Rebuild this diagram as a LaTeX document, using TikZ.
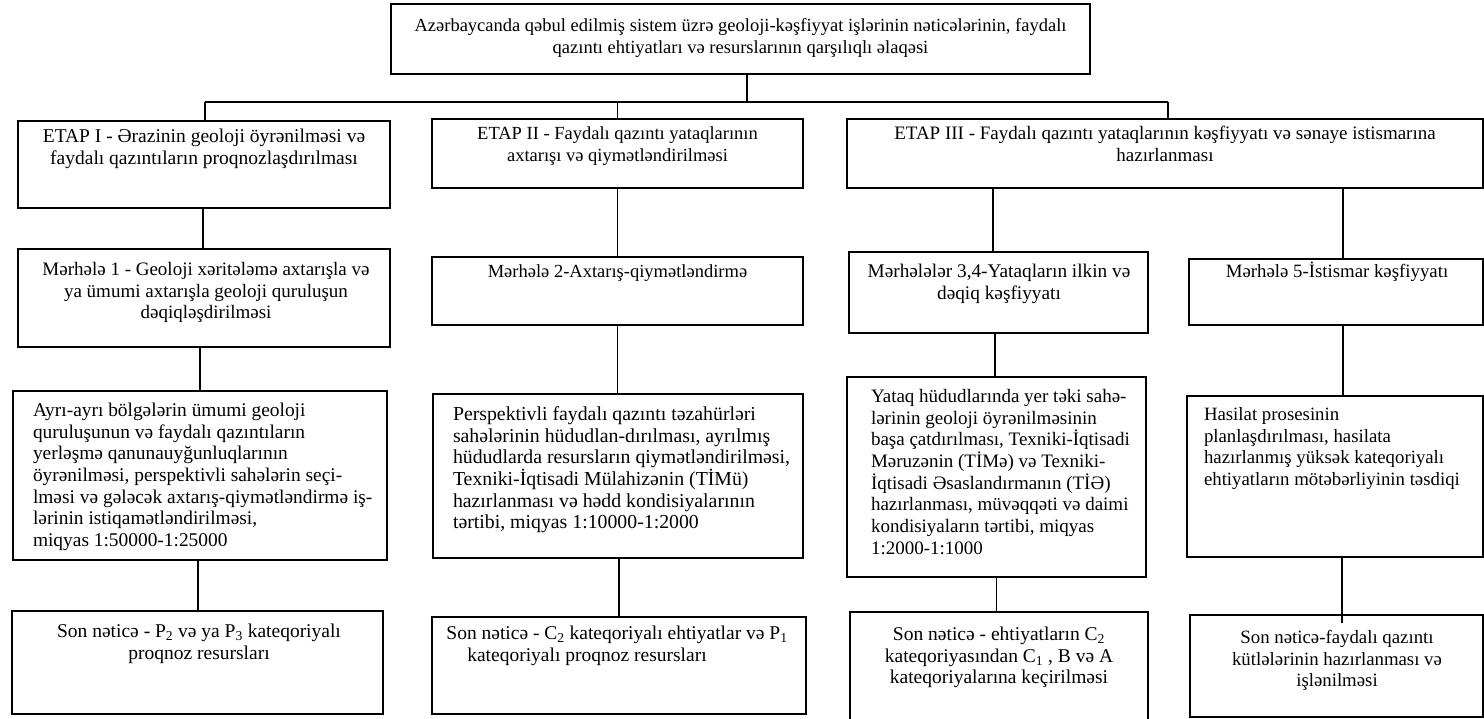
\documentclass[tikz,border=0pt]{standalone}
\usepackage{fontspec}
\setmainfont{Liberation Serif}
\tikzset{
  box/.style={draw, line width=1.5pt, inner sep=0pt, outer sep=0pt},
  txt/.style={inner sep=0pt, outer sep=0pt},
  conn/.style={line width=1.5pt},
}
\newcommand{\bx}[5]{\node[box, minimum width={(#4)-(#2)}, minimum height={(#5)-(#3)}] (#1) at ({((#2)+(#4))/2},{((#3)+(#5))/2}) {};}
\newcommand{\tc}[5][19]{\node[txt, font=\fontsize{#1}{21.7}\selectfont, align=center, anchor=north] (#2) at (#3,{(#4)-13.6}) {\rule{0pt}{18pt}#5};}
\newcommand{\tl}[5][19]{\node[txt, font=\fontsize{#1}{21.7}\selectfont, align=left, anchor=north west] (#2) at (#3,{(#4)-13.6}) {\rule{0pt}{18pt}#5};}
\newcommand{\vc}[3]{\draw[conn] ([xshift=#3pt]#1.south) -- ([xshift=#3pt]#1.south |- #2.north);}
\begin{document}
\begin{tikzpicture}[x=1pt,y=-1pt]
\useasboundingbox (0,0) rectangle (1484,719);
% boxes
\bx{top}{391}{4}{1090}{74}
\bx{e1}{18}{121}{390}{208}
\bx{e2}{432}{119}{803}{188}
\bx{e3}{847}{119}{1483}{188}
\bx{m1}{18}{249}{390}{347}
\bx{m2}{432}{257}{803}{325}
\bx{m34}{849}{252}{1148}{333}
\bx{m5}{1189}{259}{1483}{325}
\bx{a1}{13}{391}{387}{560}
\bx{a2}{433}{394}{803}{558}
\bx{a3}{847}{377}{1146}{577}
\bx{a4}{1187}{396}{1483}{557}
\bx{s1}{12}{611}{383}{714}
\bx{s2}{432}{617}{806}{714}
\bx{s3}{850}{612}{1148}{724}
\bx{s4}{1190}{615}{1483}{717}
% texts
\tc[18.5]{ttop}{740.5}{27}{Azərbaycanda qəbul edilmiş sistem üzrə geoloji-kəşfiyyat işlərinin nəticələrinin, faydalı\\qazıntı ehtiyatları və resurslarının qarşılıqlı əlaqəsi}
\tc[19.5]{te1}{204}{138}{ETAP I - Ərazinin geoloji öyrənilməsi və\\faydalı qazıntıların proqnozlaşdırılması}
\tc[18.5]{te2}{617.5}{135}{ETAP II - Faydalı qazıntı yataqlarının\\axtarışı və qiymətləndirilməsi}
\tc[19]{te3}{1165}{135}{ETAP III - Faydalı qazıntı yataqlarının kəşfiyyatı və sənaye istismarına\\hazırlanması}
\tc[19]{tm1}{206}{271}{Mərhələ 1 - Geoloji xəritələmə axtarışla və\\ya ümumi axtarışla geoloji quruluşun\\dəqiqləşdirilməsi}
\tc[18.5]{tm2}{617.5}{273}{Mərhələ 2-Axtarış-qiymətləndirmə}
\tc[19.3]{tm34}{999}{273}{Mərhələlər 3,4-Yataqların ilkin və\\dəqiq kəşfiyyatı}
\tc[18.8]{tm5}{1337}{273}{Mərhələ 5-İstismar kəşfiyyatı}
\tl[19.4]{ta1}{33}{412}{Ayrı-ayrı bölgələrin ümumi geoloji\\quruluşunun və faydalı qazıntıların\\yerləşmə qanunauyğunluqlarının\\öyrənilməsi, perspektivli sahələrin seçi-\\lməsi və gələcək axtarış-qiymətləndirmə iş-\\lərinin istiqamətləndirilməsi,\\miqyas 1:50000-1:25000}
\tl[19.8]{ta2}{453}{416}{Perspektivli faydalı qazıntı təzahürləri\\sahələrinin hüdudlan-dırılması, ayrılmış\\hüdudlarda resursların qiymətləndirilməsi,\\Texniki-İqtisadi Mülahizənin (TİMü)\\hazırlanması və hədd kondisiyalarının\\tərtibi, miqyas 1:10000-1:2000}
\tl[19]{ta3}{871}{398}{Yataq hüdudlarında yer təki sahə-\\lərinin geoloji öyrənilməsinin\\başa çatdırılması, Texniki-İqtisadi\\Məruzənin (TİMə) və Texniki-\\İqtisadi Əsaslandırmanın (TİƏ)\\hazırlanması, müvəqqəti və daimi\\kondisiyaların tərtibi, miqyas\\1:2000-1:1000}
\tl[18.8]{ta4}{1204}{416}{Hasilat prosesinin\\planlaşdırılması, hasilata\\hazırlanmış yüksək kateqoriyalı\\ehtiyatların mötəbərliyinin təsdiqi}
\tc[19.5]{ts1}{199}{633}{Son nəticə - P\textsubscript{2} və ya P\textsubscript{3} kateqoriyalı\\proqnoz resursları}
\tc[19.5]{ts2}{617}{635}{Son nəticə - C\textsubscript{2} kateqoriyalı ehtiyatlar və P\textsubscript{1}\\kateqoriyalı proqnoz resursları\hspace*{60pt}}
\tc[19.5]{ts3}{999}{636}{Son nəticə - ehtiyatların C\textsubscript{2}\\kateqoriyasından C\textsubscript{1} , B və A\\kateqoriyalarına keçirilməsi}
\tc[18.8]{ts4}{1337}{639}{Son nəticə-faydalı qazıntı\\kütlələrinin hazırlanması və\\işlənilməsi}
% bus
\coordinate (busL) at (205,102);
\coordinate (busR) at (1168,102);
\draw[conn] ([xshift=6.5pt]top.south) -- ([xshift=6.5pt]top.south |- busL);
\draw[conn] (busL) -- (busR);
\draw[conn] (busL) -- (busL |- e1.north);
\draw[conn] (e2.north) -- (e2.north |- busL);
\draw[conn] (busR) -- (busR |- e3.north);
% vertical connectors
\vc{e1}{m1}{-1}
\vc{e2}{m2}{0}
\vc{e3}{m34}{-172}
\vc{e3}{m5}{178}
\vc{m1}{a1}{-4}
\vc{m2}{a2}{0}
\vc{m34}{a3}{-3.5}
\vc{m5}{a4}{7}
\vc{a1}{s1}{-2}
\vc{a2}{s2}{1}
\vc{a3}{s3}{0}
\draw[conn] ([xshift=7pt]a4.south) -- ([xshift=7pt,yshift=-8pt]a4.south |- s4.north);
\end{tikzpicture}
\end{document}
